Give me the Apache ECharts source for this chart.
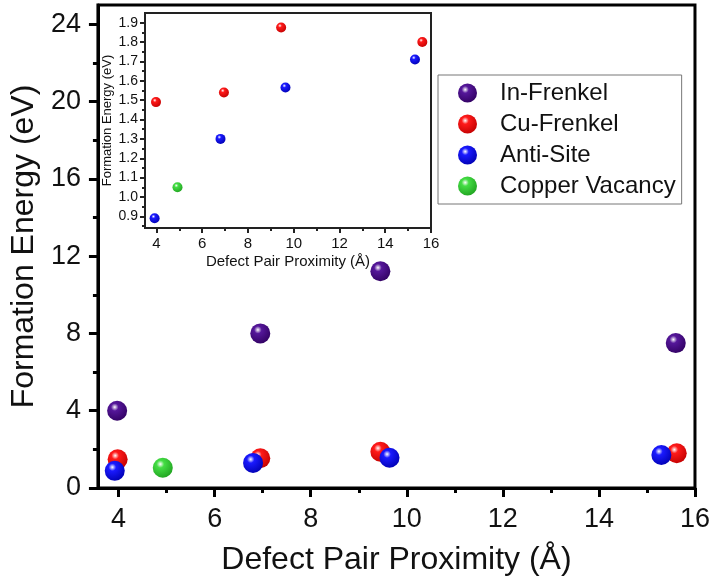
<!DOCTYPE html>
<html><head><meta charset="utf-8">
<script src="https://cdn.jsdelivr.net/npm/echarts@6/dist/echarts.min.js"></script>
<style>html,body{margin:0;padding:0;background:#fff}#c{width:713px;height:584px}</style>
</head><body><div id="c"></div>
<script>
// Data (x = defect pair proximity in Å, y = formation energy in eV)
const inFrenkelX = [3.97, 6.95, 9.45, 15.6];
const inFrenkelY = [4.0, 8.0, 11.22, 7.5];
const cuFrenkelX = [3.98, 6.95, 9.45, 15.62];
const cuFrenkelY = [1.49, 1.54, 1.875, 1.80];
const antiSiteX = [3.92, 6.8, 9.64, 15.3];
const antiSiteY = [0.89, 1.30, 1.565, 1.71];
const vacancyX = [4.92];
const vacancyY = [1.05];
const seriesNames = ['In-Frenkel', 'Cu-Frenkel', 'Anti-Site', 'Copper Vacancy'];
const mainXLabels = [4, 6, 8, 10, 12, 14, 16];
const mainXMinor = [5, 7, 9, 11, 13, 15];
const mainYLabels = [0, 4, 8, 12, 16, 20, 24];
const mainYMinor = [2, 6, 10, 14, 18, 22];
const insetXLabels = [4, 6, 8, 10, 12, 14, 16];
const insetXMinor = [5, 7, 9, 11, 13, 15];
const insetYLabels = [0.9, 1.0, 1.1, 1.2, 1.3, 1.4, 1.5, 1.6, 1.7, 1.8, 1.9];
const insetYMinor = [0.85, 0.95, 1.05, 1.15, 1.25, 1.35, 1.45, 1.55, 1.65, 1.75, 1.85];

const FONT = 'Liberation Sans, Arial, sans-serif';
function zip(xs, ys) { return xs.map((x, i) => [x, ys[i]]); }
function sphere(c, dark) {
  return new echarts.graphic.RadialGradient(0.38, 0.32, 0.75, [
    { offset: 0, color: '#ffffff' },
    { offset: 0.25, color: c },
    { offset: 1, color: dark }
  ]);
}
const colors = [sphere('#55179a', '#300060'), sphere('#ff1a1a', '#c00000'), sphere('#1a1aff', '#0000b0'), sphere('#44dd44', '#1fa01f')];

function xAxisDef(gridIndex, min, max, labels, fs, name, nameFs, nameGap, lw, lineColor, tickLen, margin) {
  return {
    type: 'value', gridIndex, min, max, position: 'bottom',
    name, nameLocation: 'middle', nameGap,
    nameTextStyle: { fontFamily: FONT, fontSize: nameFs, color: '#111' },
    axisLine: { show: true, onZero: false, lineStyle: { color: lineColor, width: lw } },
    axisTick: { show: true, inside: false, length: tickLen, customValues: labels, lineStyle: { color: lineColor, width: lw } },
    axisLabel: { show: true, customValues: labels, fontFamily: FONT, fontSize: fs, color: '#111', margin },
    splitLine: { show: false }
  };
}
function xMinorDef(gridIndex, min, max, vals, lw, lineColor, tickLen) {
  return {
    type: 'value', gridIndex, min, max, position: 'bottom',
    axisLine: { show: false, onZero: false },
    axisTick: { show: true, inside: false, length: tickLen, customValues: vals, lineStyle: { color: lineColor, width: lw } },
    axisLabel: { show: false }, splitLine: { show: false }
  };
}
function yAxisDef(gridIndex, min, max, labels, fs, name, nameFs, nameGap, lw, lineColor, tickLen, margin, fmt) {
  return {
    type: 'value', gridIndex, min, max, position: 'left',
    name, nameLocation: 'middle', nameGap,
    nameTextStyle: { fontFamily: FONT, fontSize: nameFs, color: '#111' },
    axisLine: { show: true, onZero: false, lineStyle: { color: lineColor, width: lw } },
    axisTick: { show: true, inside: false, length: tickLen, customValues: labels, lineStyle: { color: lineColor, width: lw } },
    axisLabel: { show: true, customValues: labels, fontFamily: FONT, fontSize: fs, color: '#111', margin, formatter: fmt },
    splitLine: { show: false }
  };
}
function yMinorDef(gridIndex, min, max, vals, lw, lineColor, tickLen) {
  return {
    type: 'value', gridIndex, min, max, position: 'left',
    axisLine: { show: false, onZero: false },
    axisTick: { show: true, inside: false, length: tickLen, customValues: vals, lineStyle: { color: lineColor, width: lw } },
    axisLabel: { show: false }, splitLine: { show: false }
  };
}

const chart = echarts.init(document.getElementById('c'), null, { renderer: 'canvas' });
const option = {
  animation: false,
  backgroundColor: '#fff',
  grid: [
    { left: 94, top: 5, width: 604, height: 483, show: true, borderColor: '#000', borderWidth: 3, backgroundColor: 'transparent' },
    { left: 145, top: 13, width: 286, height: 215, show: true, borderColor: '#222', borderWidth: 2, backgroundColor: '#fff' }
  ],
  xAxis: [
    xAxisDef(0, 3.57, 16, mainXLabels, 27, 'Defect Pair Proximity (Å)', 32, 56, 3, '#000', 9, 18),
    xMinorDef(0, 3.57, 16, mainXMinor, 3, '#000', 5),
    xAxisDef(1, 3.5, 16, insetXLabels, 15, 'Defect Pair Proximity (Å)', 15, 26, 2, '#222', 5, 8),
    xMinorDef(1, 3.5, 16, insetXMinor, 2, '#222', 3)
  ],
  yAxis: [
    yAxisDef(0, 0, 25, mainYLabels, 27, 'Formation Energy (eV)', 32, 48, 3, '#000', 9, 17),
    yMinorDef(0, 0, 25, mainYMinor, 3, '#000', 5),
    yAxisDef(1, 0.84, 1.95, insetYLabels, 14, 'Formation Energy (eV)', 13, 31, 2, '#222', 5, 7, v => v.toFixed(1)),
    yMinorDef(1, 0.84, 1.95, insetYMinor, 2, '#222', 3)
  ],
  legend: {
    show: true, orient: 'vertical', left: 438, top: 75,
    data: seriesNames,
    icon: 'circle', itemWidth: 19, itemHeight: 19, itemGap: 7,
    borderColor: '#777', borderWidth: 1, padding: [6, 6, 6, 20],
    textStyle: { fontFamily: FONT, fontSize: 24, color: '#111', padding: [0, 0, 0, 18] }
  },
  series: [
    { name: seriesNames[0], type: 'scatter', xAxisIndex: 0, yAxisIndex: 0, symbolSize: 20, data: zip(inFrenkelX, inFrenkelY), itemStyle: { color: colors[0], opacity: 1 } },
    { name: seriesNames[1], type: 'scatter', xAxisIndex: 0, yAxisIndex: 0, symbolSize: 20, data: zip(cuFrenkelX, cuFrenkelY), itemStyle: { color: colors[1], opacity: 1 } },
    { name: seriesNames[2], type: 'scatter', xAxisIndex: 0, yAxisIndex: 0, symbolSize: 20, data: zip(antiSiteX, antiSiteY), itemStyle: { color: colors[2], opacity: 1 } },
    { name: seriesNames[3], type: 'scatter', xAxisIndex: 0, yAxisIndex: 0, symbolSize: 20, data: zip(vacancyX, vacancyY), itemStyle: { color: colors[3], opacity: 1 } },
    { name: seriesNames[1], type: 'scatter', xAxisIndex: 2, yAxisIndex: 2, symbolSize: 10, data: zip(cuFrenkelX, cuFrenkelY), itemStyle: { color: colors[1], opacity: 1 } },
    { name: seriesNames[2], type: 'scatter', xAxisIndex: 2, yAxisIndex: 2, symbolSize: 10, data: zip(antiSiteX, antiSiteY), itemStyle: { color: colors[2], opacity: 1 } },
    { name: seriesNames[3], type: 'scatter', xAxisIndex: 2, yAxisIndex: 2, symbolSize: 10, data: zip(vacancyX, vacancyY), itemStyle: { color: colors[3], opacity: 1 } }
  ]
};
chart.setOption(option);
</script></body></html>
